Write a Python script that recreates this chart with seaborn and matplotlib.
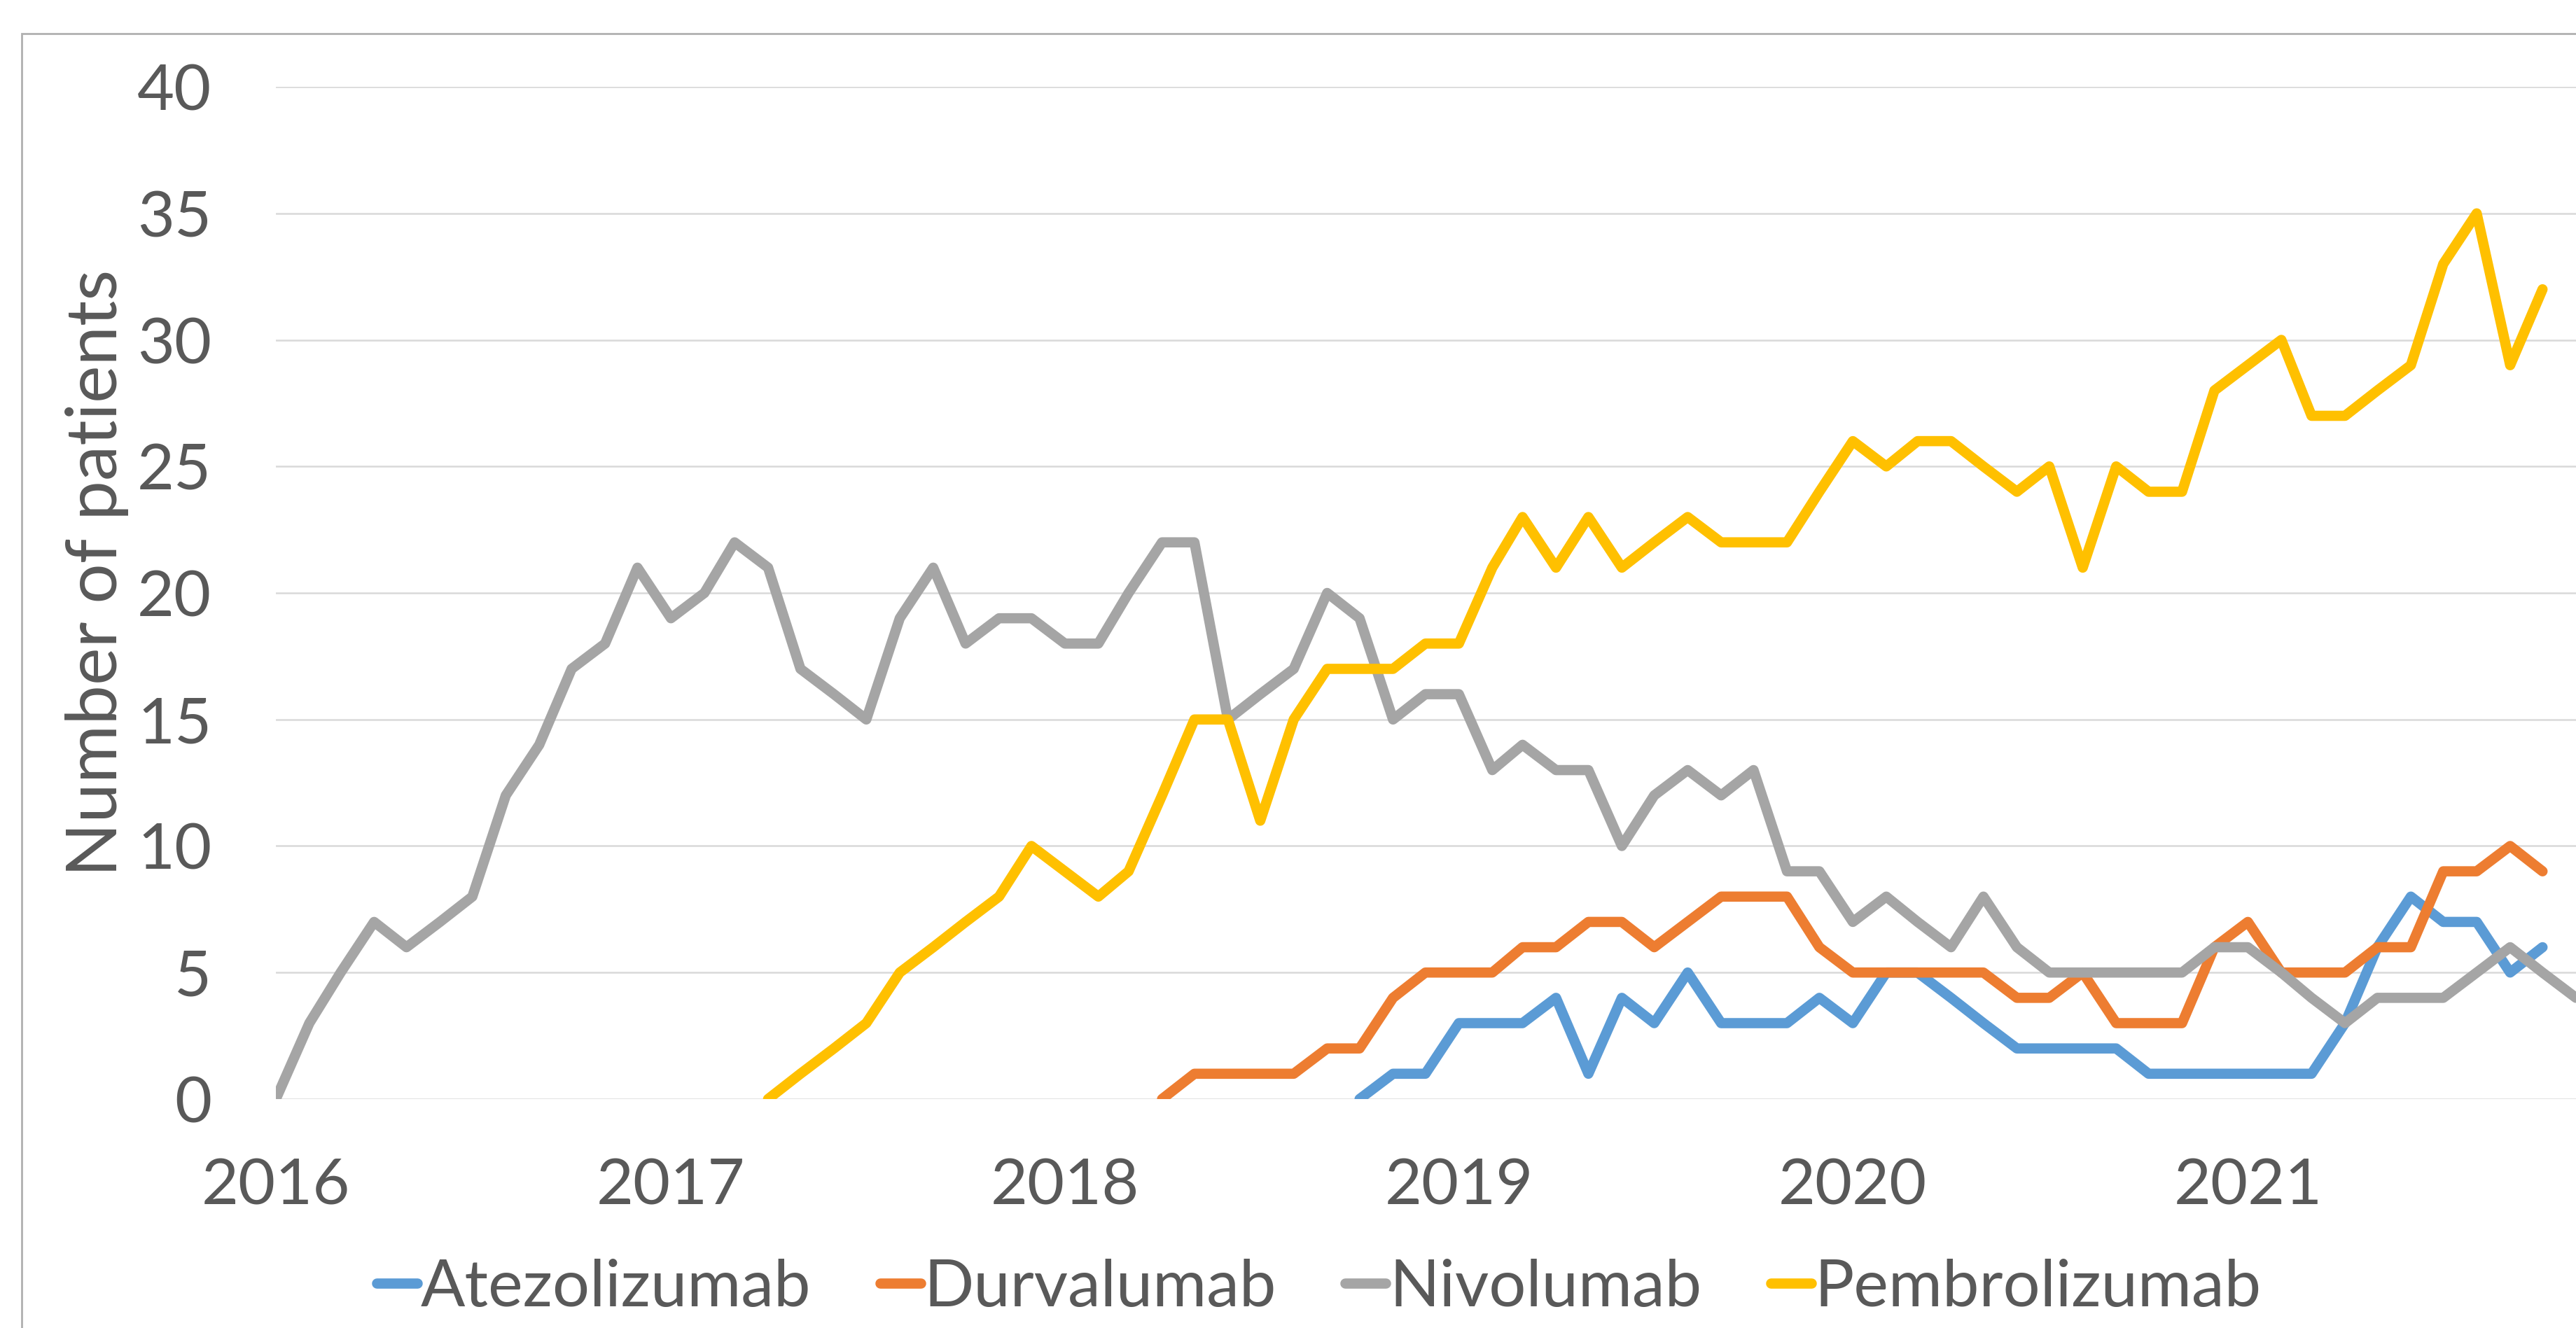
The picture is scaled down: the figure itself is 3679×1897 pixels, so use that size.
import matplotlib
matplotlib.use('Agg')
import matplotlib.pyplot as plt
from matplotlib.patches import Rectangle
import seaborn as sns
import pandas as pd

# monthly patient counts, each series starts at its own month
drugs = ['Atezolizumab', 'Durvalumab', 'Nivolumab', 'Pembrolizumab']
colors = ['#5B9BD5', '#ED7D31', '#A5A5A5', '#FFC000']
starts = ['2018-10-01', '2018-04-01', '2016-01-01', '2017-04-01']

atezolizumab = [0, 1, 1, 3, 3, 3, 4, 1, 4, 3, 5, 3, 3, 3, 4, 3, 5, 5, 4, 3,
                2, 2, 2, 2, 1, 1, 1, 1, 1, 1, 3, 6, 8, 7, 7, 5, 6]
durvalumab = [0, 1, 1, 1, 1, 2, 2, 4, 5, 5, 5, 6, 6, 7, 7, 6, 7, 8, 8, 8,
              6, 5, 5, 5, 5, 5, 4, 4, 5, 3, 3, 3, 6, 7, 5, 5, 5, 6, 6, 9,
              9, 10, 9]
nivolumab = [0, 3, 5, 7, 6, 7, 8, 12, 14, 17, 18, 21, 19, 20, 22, 21, 17, 16, 15, 19,
             21, 18, 19, 19, 18, 18, 20, 22, 22, 15, 16, 17, 20, 19, 15, 16, 16, 13, 14, 13,
             13, 10, 12, 13, 12, 13, 9, 9, 7, 8, 7, 6, 8, 6, 5, 5, 5, 5, 5, 6,
             6, 5, 4, 3, 4, 4, 4, 5, 6, 5, 4]
pembrolizumab = [0, 1, 2, 3, 5, 6, 7, 8, 10, 9, 8, 9, 12, 15, 15, 11, 15, 17, 17, 17,
                 18, 18, 21, 23, 21, 23, 21, 22, 23, 22, 22, 22, 24, 26, 25, 26, 26, 25, 24, 25,
                 21, 25, 24, 24, 28, 29, 30, 27, 27, 28, 29, 33, 35, 29, 32]

year_labels = ['2016', '2017', '2018', '2019', '2020', '2021']
y_ticks = [0, 5, 10, 15, 20, 25, 30, 35, 40]

series = [atezolizumab, durvalumab, nivolumab, pembrolizumab]
frames = []
for name, start, vals in zip(drugs, starts, series):
    dates = pd.date_range(start, periods=len(vals), freq='MS')
    frames.append(pd.DataFrame({'date': dates, 'patients': vals, 'drug': name}))
df = pd.concat(frames, ignore_index=True)

sns.set_style('white')
plt.rcParams['font.family'] = ['Lato', 'DejaVu Sans']
text_col = '#595959'
grid_col = '#D9D9D9'

fig = plt.figure(figsize=(36.79, 18.97), dpi=100)
ax = fig.add_axes([0.1071, 0.1724, 0.8929, 0.7622])

sns.lineplot(data=df, x='date', y='patients', hue='drug', hue_order=drugs,
             palette=colors, linewidth=10.5, ax=ax,
             solid_joinstyle='round', solid_capstyle='round')

ax.set_ylim(0, 40)
ax.set_yticks(y_ticks)
ax.set_xlim(pd.Timestamp('2016-01-01'), pd.Timestamp('2021-11-01'))
ax.set_xticks([pd.Timestamp(y + '-01-01') for y in year_labels])
ax.set_xticklabels(year_labels)

for s in ax.spines.values():
    s.set_visible(False)
ax.set_axisbelow(True)
ax.yaxis.grid(True, color=grid_col, linewidth=1.8)
ax.xaxis.grid(False)
ax.tick_params(axis='y', length=0, pad=66, labelsize=66, labelcolor=text_col)
ax.tick_params(axis='x', length=22, width=1.5, color=grid_col, direction='out',
               pad=38, labelsize=66, labelcolor=text_col)

ax.set_xlabel('')
ax.set_ylabel('Number of patients', fontsize=73, color=text_col)
ax.yaxis.set_label_coords(-0.064, 0.52)

handles, labels = ax.get_legend_handles_labels()
ax.legend(handles, labels, loc='center', bbox_to_anchor=(0.512, 0.03),
          bbox_transform=fig.transFigure, ncol=4, frameon=False,
          fontsize=67.5, labelcolor=text_col, handlelength=0.62,
          handletextpad=0.05, columnspacing=1.05)

# chart area border (only left and top edges visible in the crop)
fig.add_artist(Rectangle((0.0083, -0.2), 1.5, 1.1747, transform=fig.transFigure,
                         fill=False, edgecolor='#B0B0B0', linewidth=2))

fig.savefig('out.png', dpi=100)
